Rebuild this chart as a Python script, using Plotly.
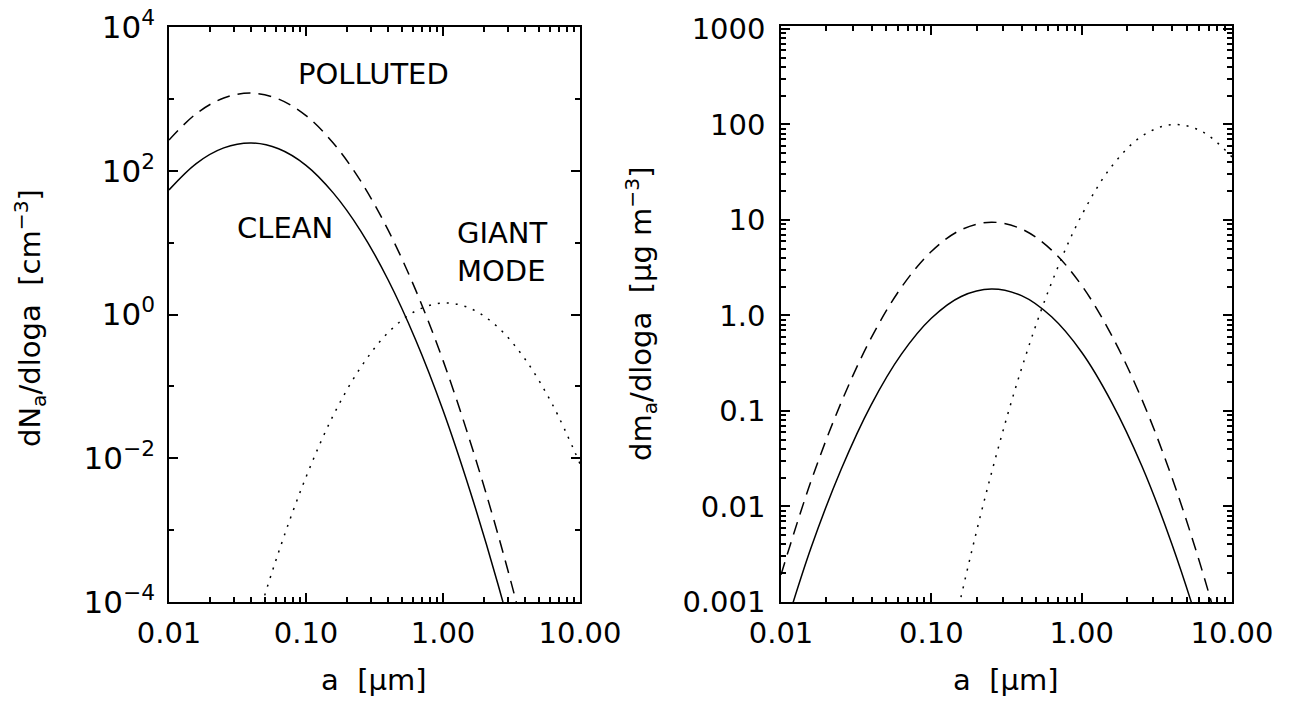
import plotly.graph_objects as go

# ---------------- data ----------------
# particle radius a [um], sampled every 0.2 decade
a_um = [0.0100, 0.0158, 0.0251, 0.0398, 0.0631, 0.100, 0.158, 0.251,
        0.398, 0.631, 1.00, 1.58, 2.51, 3.98, 6.31, 10.0]

# left panel: number distribution dN/dloga [cm^-3]
a_n_clean = a_um[:15]
n_clean = [54.1, 126, 208, 244, 202, 119, 49.2, 14.5, 3.02, 0.446,
           0.0466, 3.45e-3, 1.81e-4, 6.7e-6, 1.8e-7]
a_n_polluted = a_um[:15]
n_polluted = [267, 622, 1028, 1202, 995, 585, 243, 71.5, 14.9, 2.20,
              0.230, 0.0170, 8.93e-4, 3.31e-5, 8.7e-7]
a_n_giant = a_um[2:]
n_giant = [1.1e-6, 2.9e-5, 4.93e-4, 5.46e-3, 0.0393, 0.184, 0.562, 1.117,
           1.445, 1.218, 0.668, 0.238, 0.0554, 8.38e-3]

# right panel: mass distribution dm/dloga [ug m^-3]
a_m_clean = a_um
m_clean = [3.85e-4, 3.65e-3, 0.0244, 0.116, 0.391, 0.934, 1.58, 1.89,
           1.61, 0.967, 0.412, 0.124, 0.0267, 4.05e-3, 4.35e-4, 3.3e-5]
a_m_polluted = a_um
m_polluted = [1.93e-3, 0.0182, 0.122, 0.581, 1.96, 4.67, 7.89, 9.46,
              8.04, 4.83, 2.06, 0.622, 0.133, 0.0202, 2.17e-3, 1.66e-4]
a_m_giant = a_um[5:]
m_giant = [3.76e-5, 1.15e-3, 0.0223, 0.277, 2.20, 11.2, 36.2, 75.1,
           99.6, 84.4, 45.7]

x_tickvals = [0.01, 0.1, 1, 10]
x_ticktext = ["0.01", "0.10", "1.00", "10.00"]
yl_tickvals = [1e-4, 1e-2, 1, 1e2, 1e4]
yl_ticktext = ["10<sup>\u22124</sup>", "10<sup>\u22122</sup>", "10<sup>0</sup>",
               "10<sup>2</sup>", "10<sup>4</sup>"]
yr_tickvals = [1e-3, 1e-2, 1e-1, 1, 10, 100, 1000]
yr_ticktext = ["0.001", "0.01", "0.1", "1.0", "10", "100", "1000"]

# ---------------- styling ----------------
FONT = "DejaVu Sans"
FS = 29
W, H = 1296, 705
LW = 1.5

def minor_vals(lo, hi):
    vals = []
    for e in range(lo, hi):
        for d in range(2, 10):
            vals.append(d * 10.0 ** e)
    return vals

fig = go.Figure()

def line(x, y, dash, xa, ya):
    fig.add_trace(go.Scatter(x=x, y=y, mode="lines", xaxis=xa, yaxis=ya,
                             line=dict(color="black", width=LW, dash=dash,
                                       shape="spline", smoothing=1.0),
                             showlegend=False, hoverinfo="skip"))

line(a_n_clean, n_clean, "solid", "x", "y")
line(a_n_polluted, n_polluted, "13px,8px", "x", "y")
line(a_n_giant, n_giant, "2px,7px", "x", "y")
line(a_m_clean, m_clean, "solid", "x2", "y2")
line(a_m_polluted, m_polluted, "13px,8px", "x2", "y2")
line(a_m_giant, m_giant, "2px,7px", "x2", "y2")

common = dict(showline=True, linecolor="black", linewidth=LW, mirror="ticks",
              ticks="inside", tickcolor="black", tickwidth=LW, showgrid=False,
              zeroline=False, automargin=False,
              tickfont=dict(family=FONT, size=FS, color="black"))

ytop = 1 - 27 / H
ybot = 1 - 602 / H

fig.update_layout(
    width=W, height=H, margin=dict(l=0, r=0, t=0, b=0),
    paper_bgcolor="white", plot_bgcolor="white",
    font=dict(family=FONT, size=FS, color="black"),
    xaxis=dict(type="log", range=[-2, 1], domain=[169 / W, 580 / W], anchor="y",
               tickmode="array", tickvals=x_tickvals, ticktext=x_ticktext,
               ticklen=9, ticklabelstandoff=4,
               minor=dict(tickmode="array", tickvals=minor_vals(-2, 1), ticklen=5,
                          tickwidth=LW, tickcolor="black", ticks="inside"),
               **common),
    yaxis=dict(type="log", range=[-4, 4], domain=[ybot, ytop], anchor="x",
               tickmode="array", tickvals=yl_tickvals, ticktext=yl_ticktext,
               ticklen=9, ticklabelstandoff=6,
               tickfont=dict(family=FONT, size=31, color="black"),
               minor=dict(tickmode="array", tickvals=[1e-3, 1e-1, 1e1, 1e3], ticklen=5,
                          tickwidth=LW, tickcolor="black", ticks="inside"),
               **{k: v for k, v in common.items() if k != "tickfont"}),
    xaxis2=dict(type="log", range=[-2, 1], domain=[781 / W, 1232 / W], anchor="y2",
                tickmode="array", tickvals=x_tickvals, ticktext=x_ticktext,
                ticklen=9, ticklabelstandoff=4,
                minor=dict(tickmode="array", tickvals=minor_vals(-2, 1), ticklen=5,
                           tickwidth=LW, tickcolor="black", ticks="inside"),
                **common),
    yaxis2=dict(type="log", range=[-3, 3.03], domain=[ybot, 1 - 26 / H], anchor="x2",
                tickmode="array", tickvals=yr_tickvals, ticktext=yr_ticktext,
                ticklen=9, ticklabelstandoff=8,
                minor=dict(tickmode="array", tickvals=minor_vals(-3, 4), ticklen=5,
                           tickwidth=LW, tickcolor="black", ticks="inside"),
                **common),
)

def note(text, x, y, angle=0, xanchor="center"):
    fig.add_annotation(text=text, x=x / W, y=1 - y / H, xref="paper", yref="paper",
                       showarrow=False, textangle=angle, xanchor=xanchor, yanchor="middle",
                       font=dict(family=FONT, size=FS, color="black"), align="left")

note("POLLUTED", 373, 74)
note("CLEAN", 285, 228)
note("GIANT<br>MODE", 455, 252, xanchor="left")
note("a  [\u03bcm]", 374, 680)
note("a  [\u03bcm]", 1006, 680)
note("dN<sub>a</sub>/dloga  [cm<sup>\u22123</sup>]", 30, 318, angle=-90)
note("dm<sub>a</sub>/dloga  [\u03bcg m<sup>\u22123</sup>]", 641, 314, angle=-90)

fig.write_html("out.html")
